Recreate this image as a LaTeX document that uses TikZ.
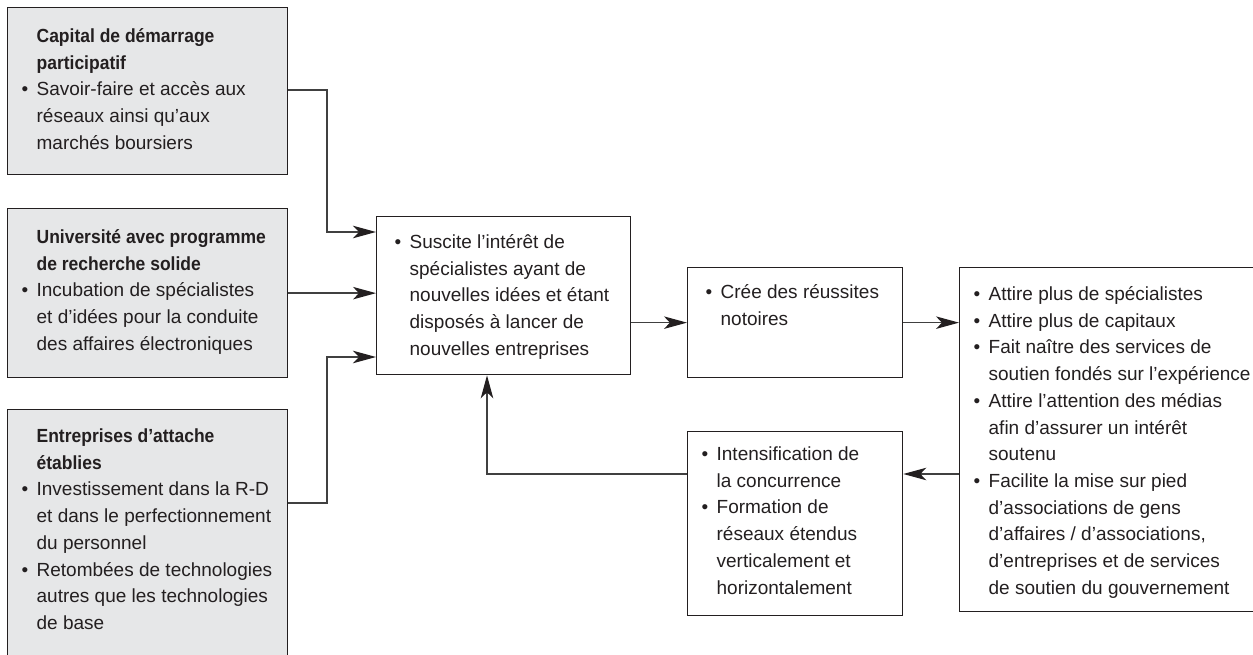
\documentclass[tikz,border=0pt]{standalone}
\usepackage{fontspec}
\setmainfont{Liberation Sans}
\newfontfamily\headfont{Liberation Sans}[FakeStretch=0.92]
\usetikzlibrary{arrows.meta}
\definecolor{boxgray}{HTML}{E6E7E8}
\definecolor{ink}{HTML}{231F20}
\definecolor{linecol}{HTML}{404040}
\newcommand\bitem{\makebox[15pt][l]{•}}
\newcommand\bcont{\hspace*{15pt}}
\newcommand\bhead[1]{\hspace*{15pt}{\headfont\bfseries #1}}
\newcommand\boxtext[2]{\parbox[t]{#1}{\fontsize{19}{26.67}\selectfont\raggedright #2}}
\begin{document}
\begin{tikzpicture}[x=1pt,y=-1pt,
  box/.style={draw=ink, line width=1.3pt, anchor=north west, inner ysep=0pt, text=ink},
  graybox/.style={box, fill=boxgray},
  arr/.style={draw=linecol, line width=1.4pt, -{Stealth[length=23pt,width=12.5pt,inset=6pt,color=ink]}}]
\useasboundingbox (0,0) rectangle (1253,655);
\clip (0,0) rectangle (1253,655);

% left gray boxes
\node[graybox, inner xsep=14pt, text height=35pt, text depth=132pt] (A) at (7,7)
 {\boxtext{252pt}{\bhead{Capital de démarrage}\\
  \bcont{\headfont\bfseries participatif}\\
  \bitem Savoir-faire et accès aux\\
  \bcont réseaux ainsi qu’aux\\
  \bcont marchés boursiers}};

\node[graybox, inner xsep=14pt, text height=35pt, text depth=134pt] (B) at (7,208)
 {\boxtext{252pt}{\bhead{Université avec programme}\\
  \bcont{\headfont\bfseries de recherche solide}\\
  \bitem Incubation de spécialistes\\
  \bcont et d’idées pour la conduite\\
  \bcont des affaires électroniques}};

\node[graybox, inner xsep=14pt, text height=33pt, text depth=230pt] (C) at (7,409)
 {\boxtext{252pt}{\bhead{Entreprises d’attache}\\
  \bcont{\headfont\bfseries établies}\\
  \bitem Investissement dans la R-D\\
  \bcont et dans le perfectionnement\\
  \bcont du personnel\\
  \bitem Retombées de technologies\\
  \bcont autres que les technologies\\
  \bcont de base}};

% central box
\node[box, inner xsep=18pt, text height=32pt, text depth=126pt] (D) at (376,216)
 {\boxtext{218pt}{\bitem Suscite l’intérêt de\\
  \bcont spécialistes ayant de\\
  \bcont nouvelles idées et étant\\
  \bcont disposés à lancer de\\
  \bcont nouvelles entreprises}};

\node[box, inner xsep=18pt, text height=31pt, text depth=79pt] (E) at (687,267)
 {\boxtext{179pt}{\bitem Crée des réussites\\
  \bcont notoires}};

\node[box, inner xsep=14pt, text height=33pt, text depth=311pt] (F) at (959,267)
 {\boxtext{300pt}{\bitem Attire plus de spécialistes\\
  \bitem Attire plus de capitaux\\
  \bitem Fait naître des services de\\
  \bcont soutien fondés sur l’expérience\\
  \bitem Attire l’attention des médias\\
  \bcont afin d’assurer un intérêt\\
  \bcont soutenu\\
  \bitem Facilite la mise sur pied\\
  \bcont d’associations de gens\\
  \bcont d’affaires / d’associations,\\
  \bcont d’entreprises et de services\\
  \bcont de soutien du gouvernement}};

\node[box, inner xsep=14pt, text height=29pt, text depth=155pt] (G) at (687,431)
 {\boxtext{187pt}{\bitem Intensification de\\
  \bcont la concurrence\\
  \bitem Formation de\\
  \bcont réseaux étendus\\
  \bcont verticalement et\\
  \bcont horizontalement}};

% connectors
\coordinate (ja) at (327,232);
\coordinate (ca) at (0,90);
\coordinate (jc) at (327,357);
\coordinate (cc) at (0,503);
\coordinate (fg) at (0,474);
\coordinate (gd) at (487,474);

\draw[arr] (A.east |- ca) -| (ja) -- (ja -| D.west);
\draw[arr] (B.east) -- (B.east -| D.west);
\draw[arr] (C.east |- cc) -| (jc) -- (jc -| D.west);
\draw[arr] (D.east |- E.west) -- (E.west);
\draw[arr] (E.east) -- (E.east -| F.west);
\draw[arr] (F.west |- fg) -- (G.east |- fg);
\draw[arr] (G.west |- gd) -- (gd) -- (gd |- D.south);
\end{tikzpicture}
\end{document}
